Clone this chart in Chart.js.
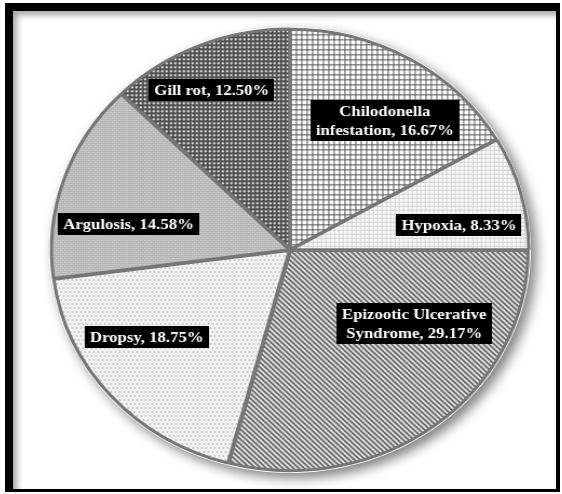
<!DOCTYPE html>
<html lang="en">
<head>
  <meta charset="UTF-8">
  <title>Fish disease share</title>
  <script src="https://cdn.jsdelivr.net/npm/chart.js"></script>
  <style>
    body { margin: 0; background: #fff; width: 562px; height: 494px; overflow: hidden; position: relative; }
    #frame {
      position: absolute; left: 5px; top: 3px; width: 543px; height: 478px;
      border-style: solid; border-color: #000;
      border-width: 8px 4px 3px 8px;
      box-shadow: inset 4px 4px 6px rgba(0,0,0,0.35);
    }
    #pie-wrap {
      position: absolute; left: 50px; top: 10px; width: 480px; height: 480px;
      transform: scaleX(1.08); transform-origin: 240px 240px;
    }
  </style>
</head>
<body>

<div id="frame"></div>
<div id="pie-wrap"><canvas id="disease-pie"></canvas></div>

<script>
  // Share of cases per disease (%)
  const diseases = ['Chilodonella infestation', 'Hypoxia', 'Epizootic Ulcerative Syndrome', 'Dropsy', 'Argulosis', 'Gill rot'];
  const shares = [16.67, 8.33, 29.17, 18.75, 14.58, 12.50];

  // where each label box sits: [fraction of radius, fraction across the slice angle]
  const labelSpots = [[0.71, 0.57], [0.72, 0.70], [0.62, 0.31], [0.72, 0.62], [0.69, 0.33], [0.80, 0.46]];

  // small tiles used as slice fills
  function tile(w, h, draw) {
    const c = document.createElement('canvas');
    c.width = w; c.height = h;
    const g = c.getContext('2d');
    draw(g);
    return g.createPattern(c, 'repeat');
  }

  const fills = [
    // square grid
    tile(5, 5, g => {
      g.fillStyle = '#fff'; g.fillRect(0, 0, 5, 5);
      g.fillStyle = '#555'; g.fillRect(0, 0, 5, 1); g.fillRect(0, 0, 1, 5);
    }),
    // faint grid
    tile(4, 4, g => {
      g.fillStyle = '#fafafa'; g.fillRect(0, 0, 4, 4);
      g.fillStyle = '#d4d4d4'; g.fillRect(0, 0, 4, 1); g.fillRect(0, 0, 1, 4);
    }),
    // diagonal stripes
    tile(5, 5, g => {
      g.fillStyle = '#fff'; g.fillRect(0, 0, 5, 5);
      g.strokeStyle = '#4a4a4a'; g.lineWidth = 1.7;
      for (let k = -5; k <= 5; k += 5) {
        g.beginPath(); g.moveTo(k - 1, -1); g.lineTo(k + 6, 6); g.stroke();
      }
    }),
    // rows of dashes
    tile(4, 8, g => {
      g.fillStyle = '#fff'; g.fillRect(0, 0, 4, 8);
      g.fillStyle = '#8c8c8c';
      g.fillRect(0, 1, 2, 1); g.fillRect(2, 5, 2, 1);
      g.fillStyle = '#e4e4e4';
      g.fillRect(0, 3, 4, 1); g.fillRect(0, 7, 4, 1);
    }),
    // fine stipple
    tile(4, 4, g => {
      g.fillStyle = '#b4b4b4'; g.fillRect(0, 0, 4, 4);
      g.fillStyle = '#e6e6e6'; g.fillRect(0, 0, 1, 1); g.fillRect(2, 2, 1, 1);
      g.fillStyle = '#cfcfcf'; g.fillRect(2, 0, 1, 1); g.fillRect(0, 2, 1, 1);
    }),
    // dark grid with light holes
    tile(4, 4, g => {
      g.fillStyle = '#505050'; g.fillRect(0, 0, 4, 4);
      g.fillStyle = '#e0e0e0'; g.fillRect(1, 1, 2, 2);
    })
  ];

  // soft drop shadow under the whole pie
  const pieShadow = {
    id: 'pieShadow',
    beforeDatasetsDraw(chart) {
      const arc = chart.getDatasetMeta(0).data[0];
      const ctx = chart.ctx;
      ctx.save();
      ctx.shadowColor = 'rgba(0,0,0,0.5)';
      ctx.shadowBlur = 12;
      ctx.shadowOffsetX = 5;
      ctx.shadowOffsetY = 5;
      ctx.fillStyle = '#fff';
      ctx.beginPath();
      ctx.arc(arc.x, arc.y, arc.outerRadius + 3, 0, Math.PI * 2);
      ctx.fill();
      ctx.restore();
    }
  };

  function wrap(ctx, text, maxWidth) {
    const words = text.split(' ');
    const lines = [];
    let line = '';
    words.forEach(w => {
      const test = line ? line + ' ' + w : w;
      if (line && ctx.measureText(test).width > maxWidth) {
        lines.push(line);
        line = w;
      } else {
        line = test;
      }
    });
    lines.push(line);
    return lines;
  }

  // black boxes with white "name, value%" text
  const boxLabels = {
    id: 'boxLabels',
    afterDatasetsDraw(chart) {
      const ctx = chart.ctx;
      const arcs = chart.getDatasetMeta(0).data;
      ctx.save();
      ctx.font = 'bold 15.5px "Liberation Serif", "Times New Roman", serif';
      ctx.textAlign = 'center';
      ctx.textBaseline = 'middle';
      arcs.forEach((arc, i) => {
        const [rf, af] = labelSpots[i];
        const a = arc.startAngle + af * (arc.endAngle - arc.startAngle);
        const x = arc.x + Math.cos(a) * arc.outerRadius * rf;
        const y = arc.y + Math.sin(a) * arc.outerRadius * rf;
        const text = diseases[i] + ', ' + shares[i].toFixed(2) + '%';
        const lines = wrap(ctx, text, 152);
        const lh = 19;
        const w = Math.max(...lines.map(l => ctx.measureText(l).width)) + 10;
        const h = lines.length * lh + 3;
        ctx.fillStyle = '#000';
        ctx.fillRect(Math.round(x - w / 2), Math.round(y - h / 2), Math.round(w), h);
        ctx.fillStyle = '#fff';
        lines.forEach((l, j) => {
          ctx.fillText(l, x, y - (lines.length - 1) * lh / 2 + j * lh + 1);
        });
      });
      ctx.restore();
    }
  };

  new Chart(document.getElementById('disease-pie'), {
    type: 'pie',
    data: {
      labels: diseases,
      datasets: [{
        data: shares,
        backgroundColor: fills,
        borderColor: '#767676',
        borderWidth: 3,
        offset: 3,
        radius: 220
      }]
    },
    options: {
      responsive: true,
      maintainAspectRatio: false,
      animation: false,
      events: [],
      layout: { padding: 0 },
      plugins: {
        legend: { display: false },
        tooltip: { enabled: false }
      }
    },
    plugins: [pieShadow, boxLabels]
  });
</script>

</body>
</html>
